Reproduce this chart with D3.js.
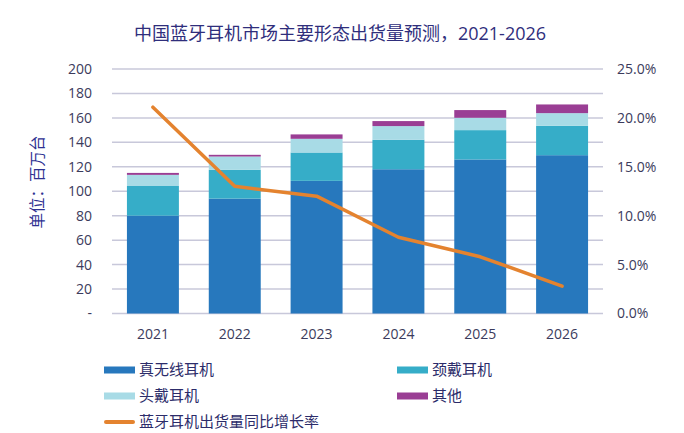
<!DOCTYPE html>
<html>
<head>
<meta charset="utf-8">
<script src="https://d3js.org/d3.v7.min.js"></script>
<style>
  body { margin: 0; background: #fff; }
  text { font-family: "Open Sans", "Noto Sans CJK SC", sans-serif; }
</style>
</head>
<body>
<svg id="chart" width="684" height="433"></svg>
<script>
// data
const years = ["2021", "2022", "2023", "2024", "2025", "2026"];
const tws   = [80, 94, 108.5, 118, 126, 129.5];     // 真无线耳机
const neck  = [24.3, 23.5, 23.2, 24.1, 24, 24];     // 颈戴耳机
const head  = [9.1, 10.9, 11.2, 11.2, 10.1, 10.4];  // 头戴耳机
const other = [1.6, 1.4, 3.6, 4.1, 6.3, 7.1];       // 其他
const growth = [0.211, 0.130, 0.120, 0.078, 0.058, 0.028];
const leftTicks = [0, 20, 40, 60, 80, 100, 120, 140, 160, 180, 200];
const rightTicks = [0, 0.05, 0.10, 0.15, 0.20, 0.25];

const seriesNames = ["真无线耳机", "颈戴耳机", "头戴耳机", "其他"];
const colors = ["#2778bd", "#36adc8", "#a8dbe6", "#9a3e94"];
const lineColor = "#e4832f";

const svg = d3.select("#chart");
const x0 = 112, x1 = 603, yTop = 69, yBot = 313.5;

const x = d3.scaleBand().domain(years).range([x0, x1])
    .paddingInner(0.365).paddingOuter(0.1825);
const y = d3.scaleLinear().domain([0, 200]).range([yBot, yTop]);
const yR = d3.scaleLinear().domain([0, 0.25]).range([yBot, yTop]);

// title
svg.append("text")
    .attr("x", 340).attr("y", 40)
    .attr("text-anchor", "middle")
    .attr("font-size", 18)
    .attr("fill", "#2f2e7c")
    .text("中国蓝牙耳机市场主要形态出货量预测，2021-2026");

// gridlines
svg.append("g").selectAll("line").data(leftTicks)
    .join("line")
    .attr("x1", x0).attr("x2", x1)
    .attr("y1", d => y(d)).attr("y2", d => y(d))
    .attr("stroke", "#c8c8da")
    .attr("stroke-width", 1.5);

// left axis
const leftAxis = d3.axisLeft(y).tickValues(leftTicks).tickSize(0).tickPadding(0)
    .tickFormat(d => d === 0 ? "-" : d);
svg.append("g").attr("transform", `translate(92,0)`).call(leftAxis)
    .call(g => g.select(".domain").remove())
    .selectAll("text").attr("font-size", 14).attr("fill", "#3b3b5c")
    .attr("font-family", "'Open Sans', sans-serif");

// right axis
const rightAxis = d3.axisRight(yR).tickValues(rightTicks).tickSize(0).tickPadding(0)
    .tickFormat(d3.format(".1%"));
svg.append("g").attr("transform", `translate(617,0)`).call(rightAxis)
    .call(g => g.select(".domain").remove())
    .selectAll("text").attr("font-size", 14).attr("fill", "#3b3b5c")
    .attr("font-family", "'Open Sans', sans-serif");

// bottom axis
const bottomAxis = d3.axisBottom(x).tickSize(0).tickPadding(0);
svg.append("g").attr("transform", `translate(0,329)`).call(bottomAxis)
    .call(g => g.select(".domain").remove())
    .selectAll("text").attr("font-size", 14).attr("fill", "#3b3b5c")
    .attr("font-family", "'Open Sans', sans-serif");

// y label
svg.append("text")
    .attr("transform", "translate(43,182) rotate(-90)")
    .attr("text-anchor", "middle")
    .attr("font-size", 15.5)
    .attr("fill", "#2e3192")
    .text("单位：百万台");

// stacked bars
const rows = years.map((yr, i) => ({ year: yr, s0: tws[i], s1: neck[i], s2: head[i], s3: other[i] }));
const stack = d3.stack().keys(["s0", "s1", "s2", "s3"])(rows);
svg.append("g").selectAll("g").data(stack)
    .join("g")
    .attr("fill", (d, i) => colors[i])
    .selectAll("rect").data(d => d)
    .join("rect")
    .attr("x", d => x(d.data.year))
    .attr("width", x.bandwidth())
    .attr("y", d => y(d[1]))
    .attr("height", d => y(d[0]) - y(d[1]));

// growth line
const line = d3.line()
    .x((d, i) => x(years[i]) + x.bandwidth() / 2)
    .y(d => yR(d));
svg.append("path").datum(growth)
    .attr("d", line)
    .attr("fill", "none")
    .attr("stroke", lineColor)
    .attr("stroke-width", 3.5)
    .attr("stroke-linejoin", "round")
    .attr("stroke-linecap", "round");

// legend
const legendItems = [
    { name: seriesNames[0], color: colors[0], type: "rect", x: 104, y: 370 },
    { name: seriesNames[1], color: colors[1], type: "rect", x: 397, y: 370 },
    { name: seriesNames[2], color: colors[2], type: "rect", x: 104, y: 396 },
    { name: seriesNames[3], color: colors[3], type: "rect", x: 397, y: 396 },
    { name: "蓝牙耳机出货量同比增长率", color: lineColor, type: "line", x: 104, y: 422 }
];
const lg = svg.append("g").selectAll("g").data(legendItems).join("g")
    .attr("transform", d => `translate(${d.x},${d.y})`);
lg.append("rect")
    .attr("x", 0).attr("width", 31)
    .attr("y", d => d.type === "rect" ? -3.5 : -2)
    .attr("height", d => d.type === "rect" ? 7 : 4)
    .attr("rx", d => d.type === "rect" ? 0 : 2)
    .attr("fill", d => d.color);
lg.append("text")
    .attr("x", 35).attr("y", 0)
    .attr("dy", "0.35em")
    .attr("font-size", 15)
    .attr("fill", "#2c2c6a")
    .text(d => d.name);
</script>
</body>
</html>
